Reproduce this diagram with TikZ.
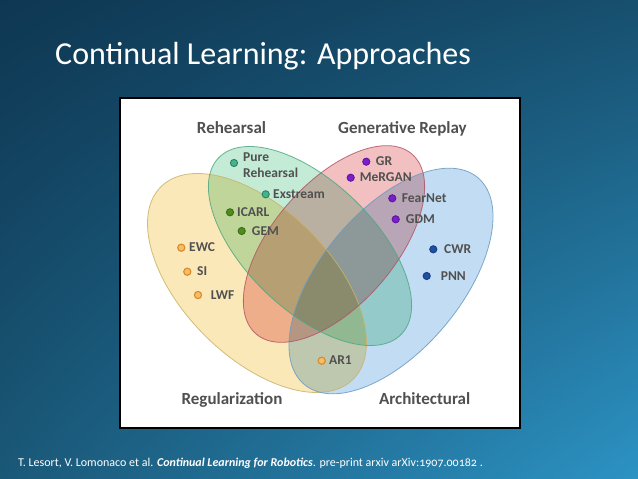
\documentclass[tikz,border=0pt]{standalone}
\usepackage{fontspec}
\setmainfont{Carlito}
\usetikzlibrary{calc,shadings}
\definecolor{bgUL}{HTML}{0E3752}
\definecolor{bgUR}{HTML}{174F6E}
\definecolor{bgLL}{HTML}{1A5878}
\definecolor{bgLR}{HTML}{2C93C4}
\definecolor{yelF}{HTML}{FBE8B8}
\definecolor{grnF}{HTML}{C4EBD6}
\definecolor{redF}{HTML}{F2C0C0}
\definecolor{bluF}{HTML}{C2DCF3}
\definecolor{yelD}{HTML}{C9B46A}
\definecolor{grnD}{HTML}{4EA883}
\definecolor{redD}{HTML}{B0566A}
\definecolor{bluD}{HTML}{6C9CC0}
\definecolor{txtG}{HTML}{505050}
\definecolor{tealF}{HTML}{45B48E}
\definecolor{tealD}{HTML}{2D7F64}
\definecolor{dgrnF}{HTML}{4E8C1E}
\definecolor{dgrnD}{HTML}{3B6E12}
\definecolor{orgF}{HTML}{F3BE6A}
\definecolor{orgD}{HTML}{D98A2A}
\definecolor{purF}{HTML}{7A1FC9}
\definecolor{purD}{HTML}{5E14A0}
\definecolor{bdotF}{HTML}{1F4FA5}
\definecolor{bdotD}{HTML}{163C80}
\tikzset{
  catlabel/.style={font=\fontsize{17}{20}\selectfont\bfseries, text=txtG, inner sep=0pt, anchor=base},
  itemlabel/.style={font=\fontsize{13.5}{16}\selectfont\bfseries, text=txtG, inner sep=0pt, anchor=base west},
  dotbase/.style={circle, minimum size=7.2pt, inner sep=0pt, line width=0.9pt},
  dotteal/.style={dotbase, fill=tealF, draw=tealD},
  dotdkgreen/.style={dotbase, fill=dgrnF, draw=dgrnD},
  dotorange/.style={dotbase, fill=orgF, draw=orgD, line width=1.1pt},
  dotpurple/.style={dotbase, fill=purF, draw=purD},
  dotblue/.style={dotbase, fill=bdotF, draw=bdotD},
  vennline/.style={line width=0.8pt, draw opacity=0.85},
}
\begin{document}
\begin{tikzpicture}[x=1pt,y=-1pt]
\useasboundingbox (0,0) rectangle (638,479);
\shade[upper left=bgUL, upper right=bgUR, lower left=bgLL, lower right=bgLR] (0,0) rectangle (638,479);
% title
\node[font=\fontsize{32}{36}\selectfont, text=white, inner sep=0pt, anchor=base west] (title) at (55,64) {Continual Learning: Approaches};
% panel
\node[draw=black, line width=1.5pt, fill=white, minimum width=400pt, minimum height=330pt, inner sep=0pt, anchor=north west] (panel) at (119,97) {};
% ellipses fills
\begin{scope}[blend mode=multiply]
  \fill[yelF, rotate around={-45:(257,283)}] (257,283) ellipse [x radius=136, y radius=74];
  \fill[bluF, rotate around={50:(391,281)}] (391,281) ellipse [x radius=135, y radius=70];
  \fill[redF, rotate around={49:(334,244)}] (334,244) ellipse [x radius=119, y radius=61];
  \fill[grnF, rotate around={-44:(310,246)}] (310,246) ellipse [x radius=127, y radius=64];
\end{scope}
% ellipse outlines
\draw[vennline, yelD, rotate around={-45:(257,283)}] (257,283) ellipse [x radius=136, y radius=74];
\draw[vennline, bluD, rotate around={50:(391,281)}] (391,281) ellipse [x radius=135, y radius=70];
\draw[vennline, redD, rotate around={49:(334,244)}] (334,244) ellipse [x radius=119, y radius=61];
\draw[vennline, grnD, rotate around={-44:(310,246)}] (310,246) ellipse [x radius=127, y radius=64];
% category labels
\node[catlabel] (reh) at (231.5,133.5) {Rehearsal};
\node[catlabel] (gen) at (402.5,133.5) {Generative Replay};
\node[catlabel] (reg) at (232,404.5) {Regularization};
\node[catlabel] (arc) at (424.7,404.5) {Architectural};
% items
\node[dotteal] (pureD) at (234,163) {};
\node[itemlabel] (pureL) at (243,161.8) {Pure};
\node[itemlabel] (pureL2) at (243,177.8) {Rehearsal};
\node[dotteal] (exsD) at (265.7,194.3) {};
\node[itemlabel] (exsL) at (273,198.8) {Exstream};
\node[dotdkgreen] (icaD) at (230,212.3) {};
\node[itemlabel] (icaL) at (237,216.8) {ICARL};
\node[dotdkgreen] (gemD) at (241.7,231) {};
\node[itemlabel] (gemL) at (251.7,235.8) {GEM};
\node[dotorange] (ewcD) at (181.3,247.7) {};
\node[itemlabel] (ewcL) at (189,251.8) {EWC};
\node[dotorange] (siD) at (187.3,271.7) {};
\node[itemlabel] (siL) at (197,275.8) {SI};
\node[dotorange] (lwfD) at (198,295) {};
\node[itemlabel] (lwfL) at (210.7,299.8) {LWF};
\node[dotorange] (ar1D) at (321.7,360.7) {};
\node[itemlabel] (ar1L) at (329,364.8) {AR1};
\node[dotpurple] (grD) at (366.3,161.7) {};
\node[itemlabel] (grL) at (375.7,165.8) {GR};
\node[dotpurple] (merD) at (350.7,177.7) {};
\node[itemlabel] (merL) at (359.7,181.8) {MeRGAN};
\node[dotpurple] (feaD) at (392.3,198.3) {};
\node[itemlabel] (feaL) at (401.7,202.8) {FearNet};
\node[dotpurple] (gdmD) at (395.7,219.3) {};
\node[itemlabel] (gdmL) at (405.7,223.8) {GDM};
\node[dotblue] (cwrD) at (433.3,249.3) {};
\node[itemlabel] (cwrL) at (444,253.8) {CWR};
\node[dotblue] (pnnD) at (426.7,276) {};
\node[itemlabel] (pnnL) at (440.7,280.8) {PNN};
% footer
\node[font=\fontsize{12}{14}\selectfont\addfontfeatures{Numbers=OldStyle}, text=white, inner sep=0pt, anchor=base west] (foot) at (18,466) {T. Lesort, V. Lomonaco et al. \textbf{\textit{Continual Learning for Robotics}}. pre-print arxiv arXiv:1907.00182 .};
\end{tikzpicture}
\end{document}
